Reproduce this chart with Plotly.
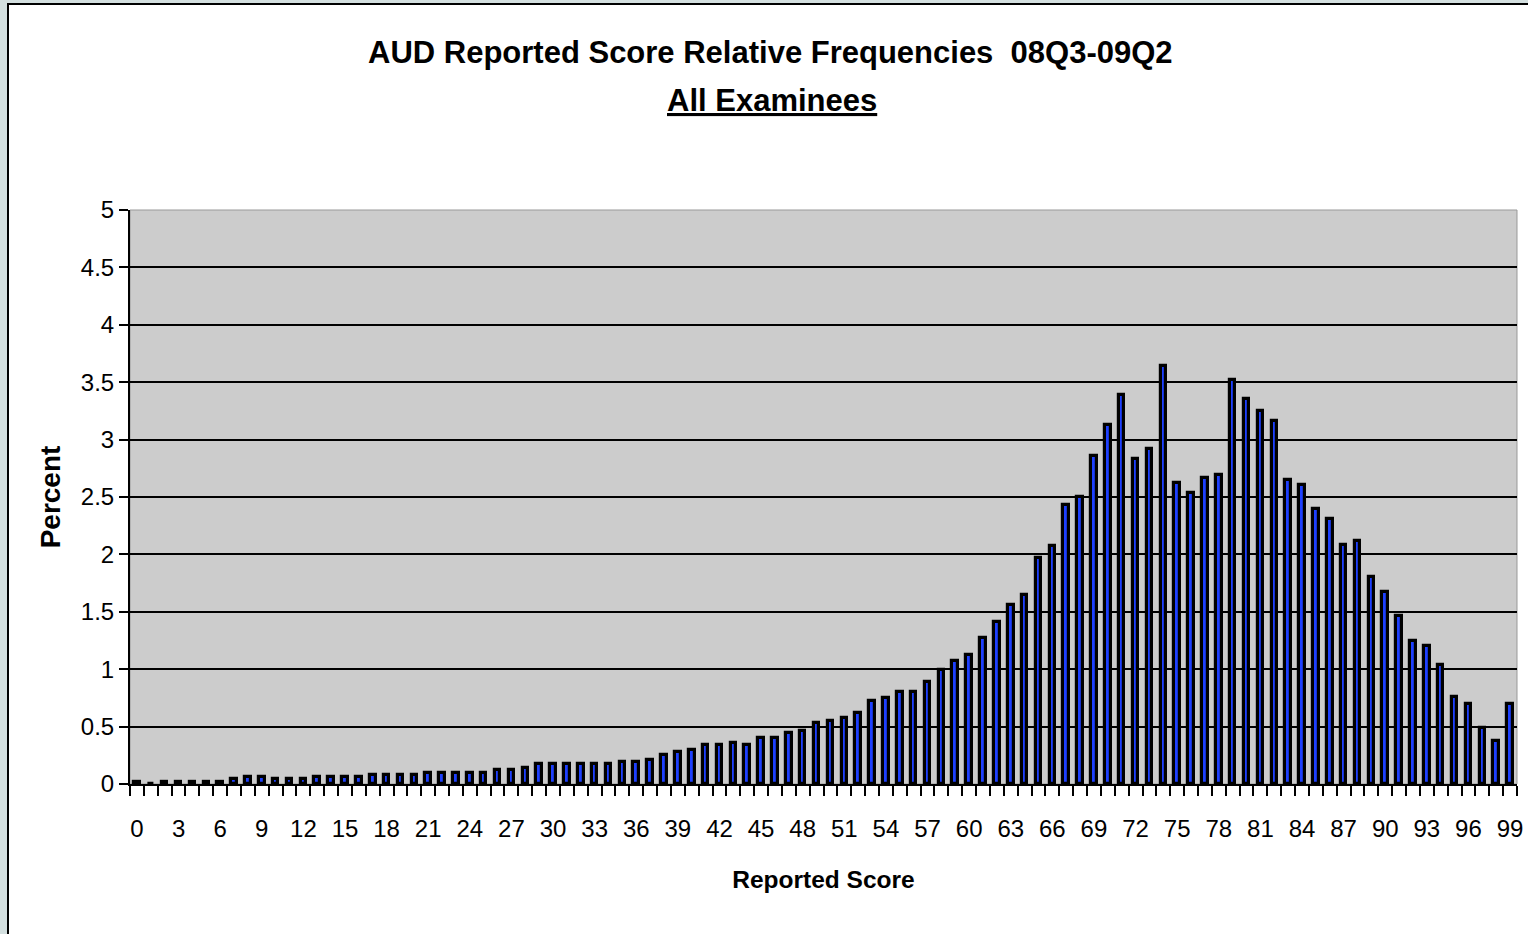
import plotly.graph_objects as go

scores = list(range(100))
percent = [
    0.02, 0.00, 0.02, 0.02, 0.02, 0.02, 0.02, 0.04, 0.06, 0.06,   # 0-9
    0.04, 0.04, 0.04, 0.06, 0.06, 0.06, 0.06, 0.08, 0.08, 0.08,   # 10-19
    0.08, 0.10, 0.10, 0.10, 0.10, 0.10, 0.12, 0.12, 0.14, 0.17,   # 20-29
    0.17, 0.17, 0.17, 0.17, 0.17, 0.19, 0.19, 0.21, 0.255, 0.275, # 30-39
    0.295, 0.34, 0.34, 0.36, 0.34, 0.405, 0.405, 0.445, 0.465, 0.53,  # 40-49
    0.55, 0.575, 0.62, 0.72, 0.745, 0.805, 0.805, 0.89, 0.99, 1.07,   # 50-59
    1.12, 1.27, 1.41, 1.56, 1.65, 1.97, 2.07, 2.43, 2.50, 2.855,      # 60-69
    3.13, 3.39, 2.835, 2.92, 3.64, 2.62, 2.535, 2.665, 2.69, 3.52,    # 70-79
    3.35, 3.245, 3.16, 2.65, 2.605, 2.395, 2.31, 2.08, 2.115, 1.80,   # 80-89
    1.67, 1.46, 1.245, 1.205, 1.035, 0.76, 0.695, 0.49, 0.375, 0.695, # 90-99
]
x_tick_vals = list(range(0, 100, 3))
x_tick_text = [str(v) for v in x_tick_vals]
y_tick_vals = [0, 0.5, 1, 1.5, 2, 2.5, 3, 3.5, 4, 4.5, 5]
y_tick_text = ["0", "0.5", "1", "1.5", "2", "2.5", "3", "3.5", "4", "4.5", "5"]

title_line1 = "AUD Reported Score Relative Frequencies&nbsp;&nbsp;08Q3-09Q2"
title_line2 = "All Examinees"

FONT = "Liberation Sans Narrow, Arial Narrow, Liberation Sans, Arial, sans-serif"

fig = go.Figure()
fig.add_trace(go.Bar(
    x=scores, y=percent, width=0.4,
    marker=dict(color="#1e40ff", line=dict(color="black", width=3.2)),
    hoverinfo="x+y",
))

W, H = 1528, 934
ml, mr, mt, mb = 130, 11, 210, 150
pw, ph = W - ml - mr, H - mt - mb

def px_x(p):
    return (p - ml) / pw

def px_y(p):
    return (H - mb - p) / ph

fig.update_layout(
    width=W, height=H,
    margin=dict(l=ml, r=mr, t=mt, b=mb, pad=0, autoexpand=False),
    paper_bgcolor="#d3dfdf",
    plot_bgcolor="rgba(0,0,0,0)",
    showlegend=False,
    bargap=0,
    font=dict(family=FONT, color="black"),
    xaxis=dict(
        range=[-0.5, 99.5], tickmode="array", tickvals=x_tick_vals, ticktext=x_tick_text,
        ticks="outside", ticklen=22, tickcolor="rgba(0,0,0,0)",
        tickfont=dict(size=24, family=FONT),
        showgrid=False, zeroline=False,
        showline=True, linecolor="black", linewidth=2,
        minor=dict(ticks="outside", tick0=-0.5, dtick=1, ticklen=10, tickcolor="black", tickwidth=2, showgrid=False),
        title=dict(text="<b>Reported Score</b>", font=dict(size=24.5, family=FONT), standoff=30),
    ),
    yaxis=dict(
        range=[0, 5], tickmode="array", tickvals=y_tick_vals, ticktext=y_tick_text,
        ticks="outside", ticklen=9, tickwidth=2, tickcolor="black",
        tickfont=dict(size=24, family=FONT),
        showgrid=True, gridcolor="black", gridwidth=2,
        zeroline=False, showline=True, linecolor="black", linewidth=2,
        title=dict(text="<b>Percent</b>", font=dict(size=28, family=FONT), standoff=12),
    ),
    annotations=[
        dict(text="<b>" + title_line1 + "</b>", xref="paper", yref="paper",
             x=px_x(770), y=px_y(53), showarrow=False, xanchor="center", yanchor="middle",
             font=dict(size=31, family=FONT)),
        dict(text="<b><u>" + title_line2 + "</u></b>", xref="paper", yref="paper",
             x=px_x(772), y=px_y(101), showarrow=False, xanchor="center", yanchor="middle",
             font=dict(size=31, family=FONT)),
    ],
    shapes=[
        # white chart frame with black left/top border
        dict(type="rect", xref="paper", yref="paper", x0=px_x(8), x1=px_x(W + 20), y0=px_y(H + 20), y1=px_y(4),
             fillcolor="white", line=dict(color="black", width=2), layer="below"),
        # plot area background with grey border
        dict(type="rect", xref="paper", yref="paper", x0=0, x1=1, y0=0, y1=1,
             fillcolor="#cccccc", line=dict(color="#999999", width=1), layer="below"),
    ],
)

fig.write_html(
    "out.html",
    config={"displayModeBar": False},
    post_script="document.body.style.margin='0px';document.body.style.overflow='hidden';",
)
